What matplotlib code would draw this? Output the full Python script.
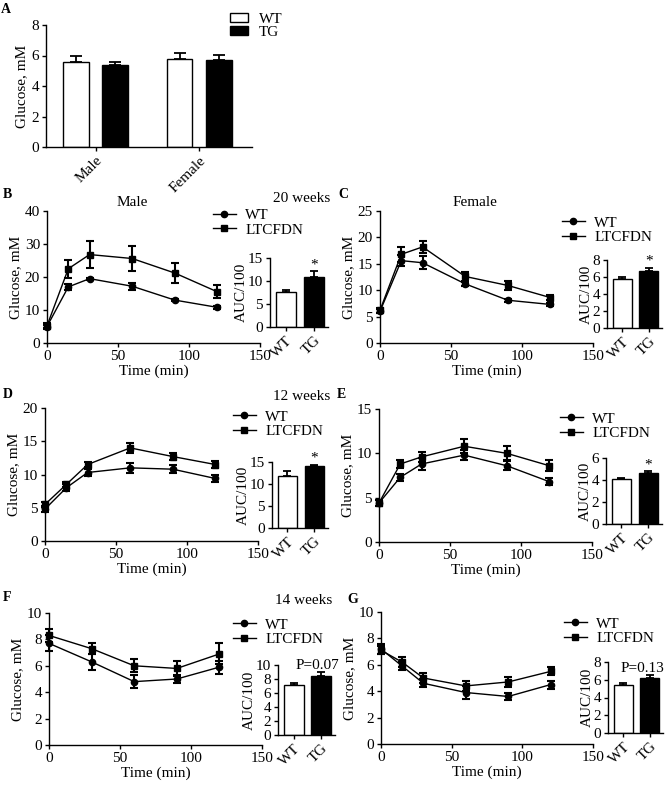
import numpy as np
import matplotlib
matplotlib.use('Agg')
import matplotlib.pyplot as plt

plt.rcParams['font.family'] = ['Liberation Serif', 'DejaVu Serif']
plt.rcParams['font.size'] = 11
plt.rcParams['axes.linewidth'] = 1.0

# ---- data ----
# A: fasting glucose
sexes = ['Male', 'Female']
fast_wt = [5.6, 5.8]
fast_wt_err = [0.35, 0.35]
fast_tg = [5.4, 5.7]
fast_tg_err = [0.2, 0.35]

times = [0, 15, 30, 60, 90, 120]
times_f = [0, 30, 60, 90, 120]

# B: male 20 weeks
b_wt = [5.0, 17.0, 19.5, 17.2, 13.0, 10.8]
b_wt_err = [0.5, 1.0, 0.3, 1.0, 0.3, 0.5]
b_tg = [5.2, 22.5, 26.8, 25.6, 21.2, 15.5]
b_tg_err = [1.0, 2.8, 4.0, 3.8, 3.0, 2.0]
b_auc = [7.7, 10.8]
b_auc_err = [0.3, 1.3]

# C: female 20 weeks
c_wt = [6.0, 15.6, 15.2, 11.2, 8.1, 7.3]
c_wt_err = [0.4, 1.0, 1.2, 0.4, 0.3, 0.3]
c_tg = [6.2, 16.8, 18.2, 12.6, 10.9, 8.6]
c_tg_err = [0.5, 1.4, 1.2, 0.9, 0.8, 0.5]
c_auc = [5.8, 6.7]
c_auc_err = [0.2, 0.4]

# D: male 12 weeks
d_wt = [4.8, 8.0, 10.3, 11.0, 10.8, 9.4]
d_wt_err = [0.5, 0.5, 0.6, 0.7, 0.6, 0.6]
d_tg = [5.5, 8.5, 11.5, 14.0, 12.7, 11.5]
d_tg_err = [0.4, 0.4, 0.4, 0.7, 0.5, 0.5]
d_auc = [11.8, 14.0]
d_auc_err = [1.2, 0.4]

# E: female 12 weeks
e_wt = [4.4, 7.3, 8.8, 9.8, 8.6, 6.8]
e_wt_err = [0.3, 0.4, 0.7, 0.6, 0.5, 0.4]
e_tg = [4.4, 8.8, 9.6, 10.8, 10.0, 8.6]
e_tg_err = [0.3, 0.5, 0.6, 0.8, 0.8, 0.6]
e_auc = [4.1, 4.6]
e_auc_err = [0.1, 0.2]

# F: male 14 weeks (no 15 min point)
f_wt = [7.7, 6.3, 4.8, 5.0, 5.9]
f_wt_err = [0.6, 0.6, 0.5, 0.3, 0.5]
f_tg = [8.3, 7.3, 6.0, 5.8, 6.9]
f_tg_err = [0.5, 0.4, 0.5, 0.6, 0.8]
f_auc = [7.2, 8.4]
f_auc_err = [0.3, 0.6]

# G: female 14 weeks
g_wt = [7.2, 5.9, 4.6, 3.9, 3.6, 4.5]
g_wt_err = [0.4, 0.3, 0.3, 0.5, 0.3, 0.3]
g_tg = [7.1, 6.2, 5.0, 4.4, 4.7, 5.5]
g_tg_err = [0.3, 0.4, 0.4, 0.4, 0.4, 0.3]
g_auc = [5.4, 6.2]
g_auc_err = [0.2, 0.3]

W, H = 670, 785
fig = plt.figure(figsize=(W / 100, H / 100), dpi=100)


def box(x0, y0, x1, y1):
    return [x0 / W, 1 - y1 / H, (x1 - x0) / W, (y1 - y0) / H]


def prism(ax):
    ax.spines['top'].set_visible(False)
    ax.spines['right'].set_visible(False)
    ax.tick_params(direction='out', length=3, width=1.0, pad=2)


def fig_text(x, y, s, **kw):
    fig.text(x / W, 1 - y / H, s, **kw)


# ---- A ----
ax = fig.add_axes(box(46, 25, 252, 147))
prism(ax)
xs = np.arange(len(sexes))
hw = ax.bar(xs - 0.19, fast_wt, width=0.25, color='white', edgecolor='black', lw=1, label='WT')
ht = ax.bar(xs + 0.19, fast_tg, width=0.25, color='black', edgecolor='black', lw=1, label='TG')
ax.errorbar(xs - 0.19, fast_wt, yerr=[np.zeros(2), fast_wt_err], fmt='none', ecolor='k', elinewidth=1.3, capsize=4, capthick=1.3)
ax.errorbar(xs + 0.19, fast_tg, yerr=[np.zeros(2), fast_tg_err], fmt='none', ecolor='k', elinewidth=1.3, capsize=4, capthick=1.3)
ax.set_xlim(-0.48, 1.51)
ax.set_ylim(0, 8)
ax.set_yticks([0, 2, 4, 6, 8])
ax.set_xticks(xs)
ax.set_xticklabels(sexes, rotation=45, ha='right', rotation_mode='anchor')
ax.set_ylabel('Glucose, mM', labelpad=2)
ax.legend(handles=[hw, ht], loc='center left', bbox_to_anchor=(230 / W, 1 - 26 / H),
          bbox_transform=fig.transFigure, frameon=False, handlelength=1.2, handleheight=0.5,
          labelspacing=0.0, borderpad=0, borderaxespad=0, handletextpad=0.7)


def tolerance(pos, t, wt, wt_err, tg, tg_err, ymax, ystep, leg_xy):
    ax = fig.add_axes(box(*pos))
    prism(ax)
    ax.plot(t, wt, '-o', color='k', ms=4.5, lw=1, label='WT', clip_on=False)
    ax.plot(t, tg, '-s', color='k', ms=4.5, lw=1, label='LTCFDN', clip_on=False)
    for vals, errs in ((wt, wt_err), (tg, tg_err)):
        eb = ax.errorbar(t, vals, yerr=errs, fmt='none', ecolor='k', elinewidth=1.5,
                         capsize=3, capthick=1.5)
        for art in eb.lines[1] + eb.lines[2]:
            art.set_clip_on(False)
    ax.set_xlim(0, 150)
    ax.set_ylim(0, ymax)
    ax.set_xticks([0, 50, 100, 150])
    ax.set_yticks(np.arange(0, ymax + 0.01, ystep))
    ax.set_xlabel('Time (min)', labelpad=1)
    ax.set_ylabel('Glucose, mM', labelpad=2)
    ax.legend(loc='center left', bbox_to_anchor=(leg_xy[0] / W, 1 - leg_xy[1] / H),
              bbox_transform=fig.transFigure, frameon=False, handlelength=1.5,
              labelspacing=0.05, borderpad=0, borderaxespad=0, handletextpad=0.6)
    return ax


def auc_inset(pos, vals, errs, ymax, ystep, note, note_x=1.0):
    ax = fig.add_axes(box(*pos))
    prism(ax)
    ax.bar([0, 1], vals, width=0.72, color=['white', 'black'], edgecolor='black', lw=1)
    ax.errorbar([0, 1], vals, yerr=[np.zeros(2), errs], fmt='none', ecolor='k',
                elinewidth=1.3, capsize=3, capthick=1.3)
    ax.set_xlim(-0.57, 1.5)
    ax.set_ylim(0, ymax)
    ax.set_yticks(np.arange(0, ymax + 0.01, ystep))
    ax.set_xticks([0, 1])
    ax.set_xticklabels(['WT', 'TG'], rotation=45, ha='right', rotation_mode='anchor')
    ax.set_ylabel('AUC/100', labelpad=0)
    ax.text(note_x, vals[1] + errs[1], note, ha='center', va='bottom')
    return ax


# ---- B ----
tolerance((47, 211, 260, 343), times, b_wt, b_wt_err, b_tg, b_tg_err, 40, 10, (213, 222.5))
auc_inset((270, 258, 328, 327), b_auc, b_auc_err, 15, 5, '*')
fig_text(132, 203, 'Male', ha='center', va='center')
fig_text(302, 198, '20 weeks', ha='center', va='center')

# ---- C ----
tolerance((380, 211, 593, 343), times, c_wt, c_wt_err, c_tg, c_tg_err, 25, 5, (562, 230))
auc_inset((607, 260, 662, 328), c_auc, c_auc_err, 8, 2, '*')
fig_text(475, 203, 'Female', ha='center', va='center')

# ---- D ----
tolerance((45, 408, 258, 541), times, d_wt, d_wt_err, d_tg, d_tg_err, 20, 5, (233, 424))
auc_inset((272, 462, 328, 528), d_auc, d_auc_err, 15, 5, '*')
fig_text(302, 396, '12 weeks', ha='center', va='center')

# ---- E ----
tolerance((379, 409, 592, 542), times, e_wt, e_wt_err, e_tg, e_tg_err, 15, 5, (560, 426))
auc_inset((606, 458, 662, 524), e_auc, e_auc_err, 6, 2, '*')

# ---- F ----
tolerance((49, 613, 262, 745), times_f, f_wt, f_wt_err, f_tg, f_tg_err, 10, 2, (233, 632))
auc_inset((278, 665, 335, 735), f_auc, f_auc_err, 10, 2, 'P=0.07', note_x=0.85)
fig_text(304, 600, '14 weeks', ha='center', va='center')

# ---- G ----
tolerance((381, 612, 593, 744), times, g_wt, g_wt_err, g_tg, g_tg_err, 10, 2, (564, 631))
auc_inset((608, 662, 663, 733), g_auc, g_auc_err, 8, 2, 'P=0.13', note_x=0.72)

# panel letters
for letter, (x, y) in zip('ABCDEFG', [(1, 3), (3, 188), (338, 188), (3, 388),
                                      (337, 388), (3, 591), (347, 593)]):
    fig_text(x, y, letter, weight='bold', va='top', ha='left', fontsize=10)

fig.savefig('out.png', dpi=100)
